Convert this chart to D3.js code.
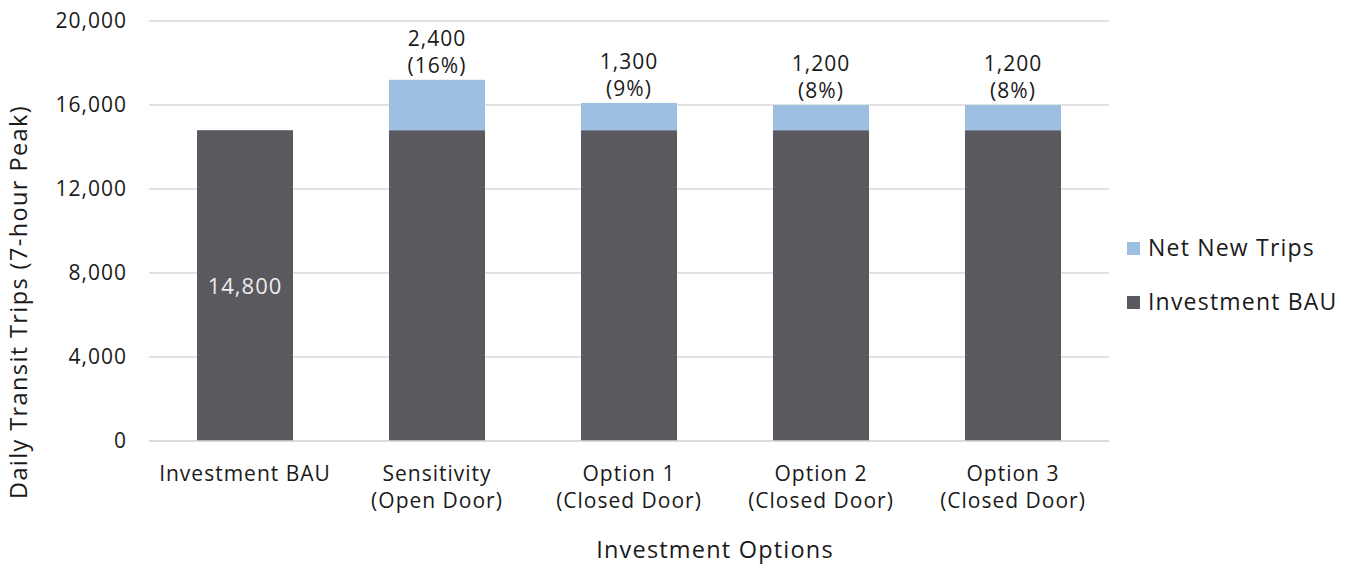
<!DOCTYPE html>
<html>
<head>
<meta charset="utf-8">
<script src="https://cdn.jsdelivr.net/npm/d3@7"></script>
<style>
  body { margin: 0; background: #fff; }
  svg text { font-family: "Open Sans", Lato, sans-serif; fill: #1a1a1a; letter-spacing: 1px; }
</style>
</head>
<body>
<svg width="1354" height="567"></svg>
<script>
// data
var categories = [["Investment BAU"], ["Sensitivity", "(Open Door)"], ["Option 1", "(Closed Door)"], ["Option 2", "(Closed Door)"], ["Option 3", "(Closed Door)"]];
var bauValues = [14800, 14800, 14800, 14800, 14800];
var netNewValues = [0, 2400, 1300, 1200, 1200];
var pctLabels = ["", "(16%)", "(9%)", "(8%)", "(8%)"];
var yTicks = [0, 4000, 8000, 12000, 16000, 20000];
var seriesNames = ["Net New Trips", "Investment BAU"];
var seriesColors = ["#9dbfe1", "#5a5960"];

var svg = d3.select("svg"),
    plotLeft = 149, plotRight = 1109, plotTop = 21, plotBottom = 441;

var x = d3.scaleBand()
    .domain(d3.range(categories.length))
    .range([plotLeft, plotRight])
    .paddingInner(0.5)
    .paddingOuter(0.25);

var y = d3.scaleLinear().domain([0, 20000]).range([plotBottom, plotTop]);
var fmt = d3.format(",");

// gridlines
svg.append("g").selectAll("line")
  .data(yTicks)
  .enter().append("line")
    .attr("x1", plotLeft).attr("x2", plotRight)
    .attr("y1", function(d) { return y(d); })
    .attr("y2", function(d) { return y(d); })
    .attr("stroke", "#d9d9d9")
    .attr("stroke-width", 1.5);

// y tick labels
svg.append("g").selectAll("text")
  .data(yTicks)
  .enter().append("text")
    .attr("x", 127)
    .attr("y", function(d) { return y(d); })
    .attr("dy", "0.35em")
    .attr("text-anchor", "end")
    .style("font-size", "21px")
    .text(function(d) { return fmt(d); });

// stacked bars
var bars = svg.append("g");
bars.selectAll(".bau")
  .data(bauValues)
  .enter().append("rect")
    .attr("class", "bau")
    .attr("x", function(d, i) { return x(i); })
    .attr("width", x.bandwidth())
    .attr("y", function(d) { return y(d); })
    .attr("height", function(d) { return y(0) - y(d); })
    .attr("fill", seriesColors[1]);

bars.selectAll(".net")
  .data(netNewValues)
  .enter().append("rect")
    .attr("class", "net")
    .attr("x", function(d, i) { return x(i); })
    .attr("width", x.bandwidth())
    .attr("y", function(d, i) { return y(bauValues[i] + d); })
    .attr("height", function(d, i) { return y(bauValues[i]) - y(bauValues[i] + d); })
    .attr("fill", seriesColors[0]);

// redraw baseline on top of bars
svg.append("line")
  .attr("x1", plotLeft).attr("x2", plotRight)
  .attr("y1", y(0)).attr("y2", y(0))
  .attr("stroke", "#d9d9d9").attr("stroke-width", 1.5);

// value labels above bars
var lab = svg.append("g");
netNewValues.forEach(function(d, i) {
  if (!d) return;
  var cx = x(i) + x.bandwidth() / 2,
      ty = y(bauValues[i] + d);
  var t = lab.append("text")
    .attr("x", cx)
    .attr("text-anchor", "middle")
    .style("font-size", "21px");
  t.append("tspan").attr("x", cx).attr("y", ty - 41).attr("dy", "0.35em").text(fmt(d));
  t.append("tspan").attr("x", cx).attr("y", ty - 14).attr("dy", "0.35em").text(pctLabels[i]);
});

// BAU label inside first bar
svg.append("text")
  .attr("x", x(0) + x.bandwidth() / 2)
  .attr("y", 286)
  .attr("dy", "0.35em")
  .attr("text-anchor", "middle")
  .style("font-size", "22px")
  .style("fill", "#ececec")
  .text(fmt(bauValues[0]));

// category labels
svg.append("g").selectAll("text")
  .data(categories)
  .enter().append("text")
    .attr("text-anchor", "middle")
    .style("font-size", "21px")
    .each(function(lines, i) {
      var cx = x(i) + x.bandwidth() / 2;
      d3.select(this).selectAll("tspan")
        .data(lines)
        .enter().append("tspan")
          .attr("x", cx)
          .attr("y", function(d, j) { return 474 + j * 27; })
          .attr("dy", "0.35em")
          .text(function(d) { return d; });
    });

// axis titles
svg.append("text")
  .attr("x", 715).attr("y", 550)
  .attr("dy", "0.35em")
  .attr("text-anchor", "middle")
  .style("font-size", "23.5px")
  .style("letter-spacing", "1.2px")
  .text("Investment Options");

svg.append("text")
  .attr("transform", "translate(19,302) rotate(-90)")
  .attr("dy", "0.35em")
  .attr("text-anchor", "middle")
  .style("font-size", "23.5px")
  .style("letter-spacing", "1.4px")
  .text("Daily Transit Trips (7-hour Peak)");

// legend
var legend = svg.append("g").selectAll("g")
  .data(seriesNames)
  .enter().append("g")
    .attr("transform", function(d, i) { return "translate(1127," + (242 + i * 54) + ")"; });
legend.append("rect")
  .attr("width", 13).attr("height", 13)
  .attr("fill", function(d, i) { return seriesColors[i]; });
legend.append("text")
  .attr("x", 21).attr("y", 6).attr("dy", "0.35em")
  .style("font-size", "23px")
  .style("letter-spacing", "1.2px")
  .text(function(d) { return d; });
</script>
</body>
</html>
